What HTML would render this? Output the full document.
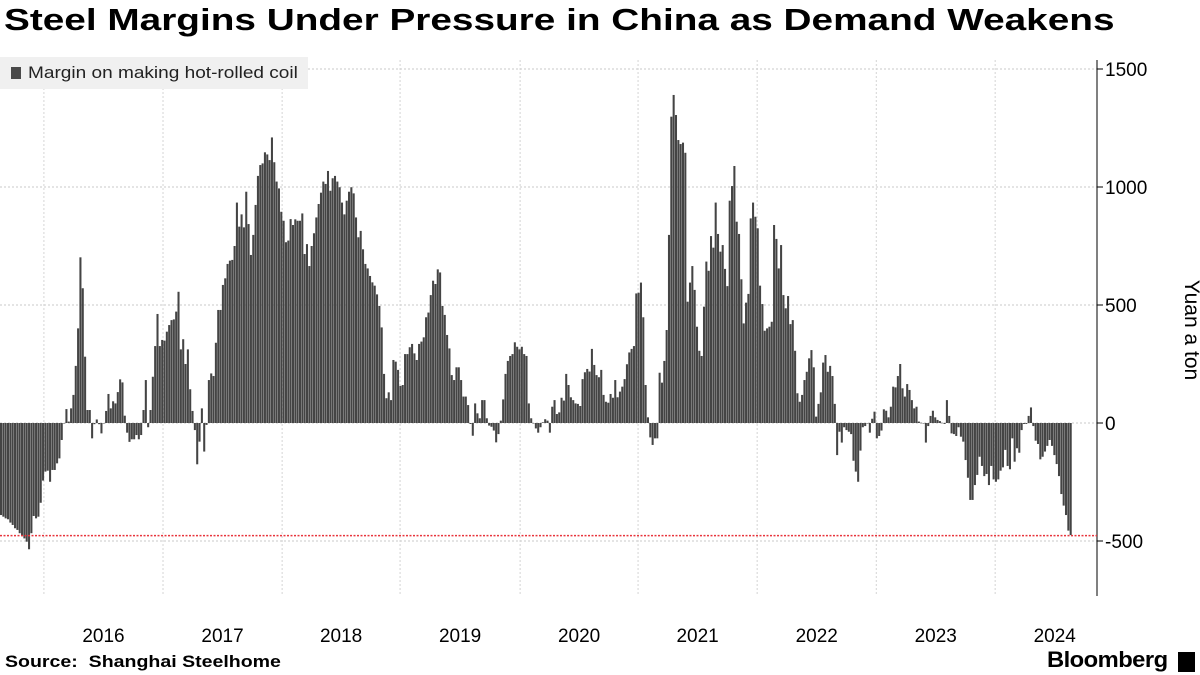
<!DOCTYPE html>
<html><head><meta charset="utf-8">
<style>
body{margin:0;background:#fff;width:1200px;height:675px;overflow:hidden;font-family:"Liberation Sans",sans-serif;}
#title{position:absolute;left:4px;top:2px;font-size:31px;font-weight:bold;color:#000;white-space:nowrap;transform-origin:0 0;transform:scaleX(1.25)}
#legend{position:absolute;left:0;top:57px;width:308px;height:32px;background:#f0f0f0;}
#legend .sw{position:absolute;left:11px;top:10px;width:10px;height:12px;background:#4a4a4a}
#legend .tx{position:absolute;left:28px;top:6px;font-size:17px;color:#222;white-space:nowrap;transform-origin:0 0;transform:scaleX(1.12)}
#src{position:absolute;left:5px;top:652px;font-size:17px;font-weight:bold;color:#000;white-space:nowrap;transform-origin:0 0;transform:scaleX(1.15)}
#logo{position:absolute;left:1047px;top:647px;font-size:22px;font-weight:bold;color:#000;letter-spacing:-0.5px;white-space:nowrap;transform-origin:0 0;transform:scaleX(1.08)}
#logobox{position:absolute;left:1178px;top:652px;width:17px;height:20px;background:#000}
</style></head><body>
<div id="title">Steel Margins Under Pressure in China as Demand Weakens</div>
<svg id="chart" width="1200" height="675" style="position:absolute;left:0;top:0"></svg>
<div id="legend"><div class="sw"></div><div class="tx">Margin on making hot-rolled coil</div></div>
<div id="src">Source: &nbsp;Shanghai Steelhome</div>
<div id="logo">Bloomberg</div>
<div id="logobox"></div>
<script>
const margins = [-390,-397,-404,-408,-422,-432,-446,-453,-467,-479,-489,-503,-535,-467,-394,-404,-397,-338,-244,-206,-202,-249,-199,-199,-171,-150,-72,0,59,6,62,119,242,401,702,571,281,55,55,-65,-5,15,-5,-44,0,51,123,62,92,83,131,185,172,31,-41,-80,-69,-69,-51,-69,-51,55,182,-18,55,196,326,462,326,352,349,387,415,436,439,472,556,
312,355,250,312,143,51,-30,-175,-79,62,-121,-8,182,210,199,340,479,479,585,613,674,688,691,750,934,832,884,829,980,843,712,797,924,1047,1093,1100,1147,1138,1114,1210,1105,1023,994,895,857,766,773,864,839,863,857,857,888,716,758,665,750,804,871,928,976,1023,1013,1068,984,1037,1047,1023,999,934,884,942,980,999,973,871,787,814,736,674,655,623,
596,582,545,496,405,208,105,130,97,267,260,225,157,161,292,292,321,335,295,267,335,345,363,448,468,542,603,589,651,638,496,458,373,316,203,182,236,236,182,112,112,76,-4,-54,83,41,20,97,97,20,-11,-16,-32,-82,-47,10,100,208,263,284,292,342,323,312,323,292,284,83,20,0,-23,-41,-18,3,16,10,-41,69,97,38,45,107,95,208,161,109,97,83,81,72,186,215,229,218,314,246,203,194,225,119,90,86,123,107,182,109,133,154,186,249,299,314,326,549,552,595,448,
161,24,
-61,-93,-65,-65,213,171,263,394,797,1298,1390,1305,1199,1182,1188,1145,514,595,665,564,408,306,284,493,684,645,792,743,934,801,726,754,653,580,942,1004,1089,853,801,609,422,510,547,867,934,874,825,582,504,391,401,408,429,839,780,655,754,542,486,538,419,436,306,126,90,119,182,217,274,309,236,27,81,130,256,288,217,242,199,81,-136,-37,
-83,-18,-30,-37,-47,-160,-206,-249,-117,-18,-13,0,-41,18,48,-65,-55,-32,58,52,24,69,154,151,199,250,147,112,165,140,97,62,69,6,1,0,-83,-13,30,52,24,13,8,1,-4,97,30,-44,-47,-55,-18,-58,-79,-157,-232,-326,-326,-263,-220,-143,-182,-225,-216,-263,-182,-239,-249,-239,-202,-188,-114,-182,-196,-65,-164,-107,-126,-30,-4,-4,30,66,-13,-75,-89,-154,-143,-121,-97,-72,-97,-136,-174,-225,-301,-350,-390,-456,-475];
const yTicks = [-500,0,500,1000,1500];
const yTickLabels = ["-500","0","500","1000","1500"];
const yearLabels = ["2016","2017","2018","2019","2020","2021","2022","2023","2024"];
const yearStartIndex = [18.8,69.8,120.8,171.3,222.7,273.2,324.2,375.2,426.1];

const NS="http://www.w3.org/2000/svg";
const svg=document.getElementById('chart');
const plotRight=1097, step=1072/margins.length;
const x=i=>i*step;
const y=v=>423-v*0.236;
function mk(t,a){const e=document.createElementNS(NS,t);for(const k in a)e.setAttribute(k,a[k]);svg.appendChild(e);return e;}

yTicks.forEach((t,i)=>{
  const g=mk('line',{x1:0,x2:plotRight,y1:y(t),y2:y(t),stroke:'#c8c8c8','stroke-dasharray':'2,2','stroke-width':1});
  
  
  const tk=mk('line',{x1:plotRight,x2:plotRight+6,y1:y(t),y2:y(t),stroke:'#000','stroke-width':1});
  
  
  const l=mk('text',{x:plotRight+8,y:y(t)+7,'font-size':19,fill:'#000','font-family':'Liberation Sans, sans-serif'});
  l.textContent=yTickLabels[i];
  
  
});
yearStartIndex.forEach((v,i)=>{
  const g=mk('line',{x1:x(v),x2:x(v),y1:60,y2:596,stroke:'#d4d4d4','stroke-dasharray':'2,2','stroke-width':1});
  
  
  const next=i+1<yearStartIndex.length?yearStartIndex[i+1]:v+51;
  const l=mk('text',{x:x((v+next)/2),y:642,'font-size':19,'text-anchor':'middle',fill:'#000','font-family':'Liberation Sans, sans-serif'});
  l.textContent=yearLabels[i];
  
  
});
const ax=mk('line',{x1:plotRight,x2:plotRight,y1:60,y2:596,stroke:'#000','stroke-width':1});



margins.forEach((v,i)=>{
  const y0=y(0),y1=y(v);
  const r=mk('rect',{x:x(i),y:Math.min(y0,y1),width:step*0.88,height:Math.max(0.5,Math.abs(y1-y0)),fill:'#444'});
  
  
});
const last=margins[margins.length-1];
const rl=mk('line',{x1:0,x2:plotRight,y1:y(last)+0.5,y2:y(last)+0.5,stroke:'#e8343c','stroke-dasharray':'2,1.5','stroke-width':1.5});


const yt=mk('text',{x:1185,y:330,'font-size':21,'text-anchor':'middle',fill:'#000',transform:'rotate(90 1185 330)','font-family':'Liberation Sans, sans-serif'});
yt.textContent='Yuan a ton';


</script>
</body></html>
